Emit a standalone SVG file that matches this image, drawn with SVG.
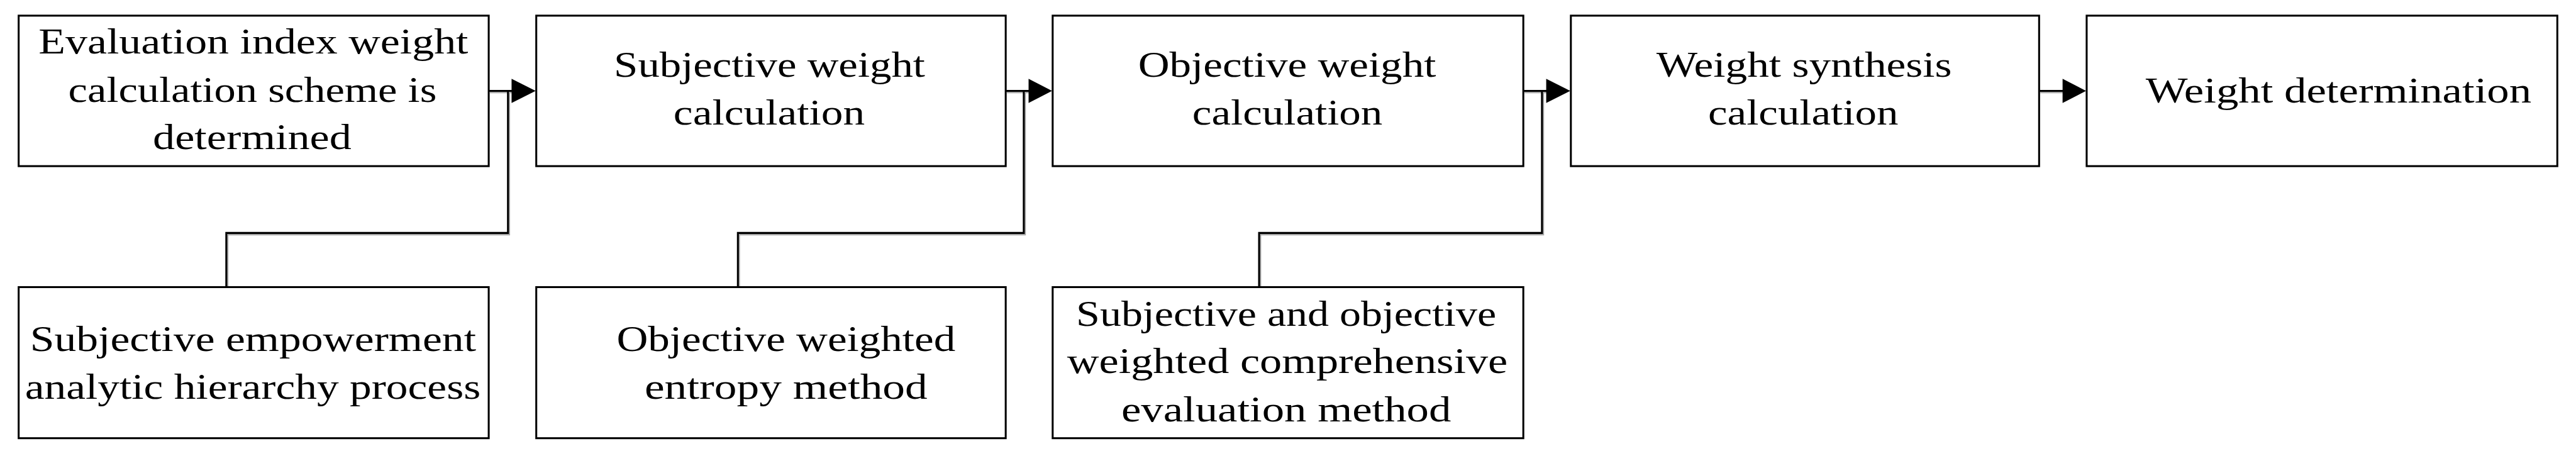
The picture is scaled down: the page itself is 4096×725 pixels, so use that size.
<svg xmlns="http://www.w3.org/2000/svg" width="4096" height="725" viewBox="0 0 4096 725">
<style>
.box{fill:#fff;stroke:#000;stroke-width:3.2}
.t{font-family:"Liberation Serif","Times New Roman",serif;font-size:60px;fill:#000}
.ln{fill:none;stroke:#000;stroke-width:3.2;stroke-linejoin:miter}
.sh{fill:none;stroke:#a8a8a8;stroke-width:3}
.ah{fill:#000}
</style>
<rect width="4096" height="725" fill="#fff"/>
<g transform="scale(0.957)">
<g id="connectors">
<g transform="translate(2,2.5)">
<path class="sh" d="M812 151H851"/><path class="sh" d="M1671 151H1710"/><path class="sh" d="M2531 151H2570"/><path class="sh" d="M3388 151H3428"/>
<path class="sh" d="M844 151V387H376V477"/><path class="sh" d="M1701 151V387H1226V477"/><path class="sh" d="M2562 151V387H2092V477"/>
</g>
<path class="ln" d="M812 151H852"/><polygon class="ah" points="850,131 890,151 850,171"/>
<path class="ln" d="M1671 151H1711"/><polygon class="ah" points="1709,131 1748,151 1709,171"/>
<path class="ln" d="M2531 151H2571"/><polygon class="ah" points="2569,131 2609,151 2569,171"/>
<path class="ln" d="M3388 151H3429"/><polygon class="ah" points="3427,131 3466,151 3427,171"/>
<path class="ln" d="M844 151V387H376V477"/>
<path class="ln" d="M1701 151V387H1226V477"/>
<path class="ln" d="M2562 151V387H2092V477"/>
</g>
<g id="n1"><rect class="box" x="31" y="26" width="781" height="250"/>
<text class="t" x="64" y="89" textLength="714" lengthAdjust="spacingAndGlyphs">Evaluation index weight</text>
<text class="t" x="113.5" y="169" textLength="612" lengthAdjust="spacingAndGlyphs">calculation scheme is</text>
<text class="t" x="254" y="248" textLength="330" lengthAdjust="spacingAndGlyphs">determined</text></g>
<g id="n2"><rect class="box" x="891" y="26" width="780" height="250"/>
<text class="t" x="1020" y="128" textLength="517" lengthAdjust="spacingAndGlyphs">Subjective weight</text>
<text class="t" x="1119" y="207" textLength="318" lengthAdjust="spacingAndGlyphs">calculation</text></g>
<g id="n3"><rect class="box" x="1749" y="26" width="782" height="250"/>
<text class="t" x="1891" y="128" textLength="495" lengthAdjust="spacingAndGlyphs">Objective weight</text>
<text class="t" x="1981" y="207" textLength="316" lengthAdjust="spacingAndGlyphs">calculation</text></g>
<g id="n4"><rect class="box" x="2610" y="26" width="778" height="250"/>
<text class="t" x="2752" y="128" textLength="491" lengthAdjust="spacingAndGlyphs">Weight synthesis</text>
<text class="t" x="2838" y="207" textLength="316" lengthAdjust="spacingAndGlyphs">calculation</text></g>
<g id="n5"><rect class="box" x="3467" y="26" width="782" height="250"/>
<text class="t" x="3565" y="170" textLength="641" lengthAdjust="spacingAndGlyphs">Weight determination</text></g>
<g id="m1"><rect class="box" x="31" y="477" width="781" height="251"/>
<text class="t" x="50" y="583" textLength="741" lengthAdjust="spacingAndGlyphs">Subjective empowerment</text>
<text class="t" x="41.5" y="662" textLength="757" lengthAdjust="spacingAndGlyphs">analytic hierarchy process</text></g>
<g id="m2"><rect class="box" x="891" y="477" width="780" height="251"/>
<text class="t" x="1024.5" y="583" textLength="563" lengthAdjust="spacingAndGlyphs">Objective weighted</text>
<text class="t" x="1071" y="663" textLength="470" lengthAdjust="spacingAndGlyphs">entropy method</text></g>
<g id="m3"><rect class="box" x="1749" y="477" width="782" height="251"/>
<text class="t" x="1788" y="541" textLength="698" lengthAdjust="spacingAndGlyphs">Subjective and objective</text>
<text class="t" x="1773" y="620" textLength="732" lengthAdjust="spacingAndGlyphs">weighted comprehensive</text>
<text class="t" x="1863" y="700" textLength="548" lengthAdjust="spacingAndGlyphs">evaluation method</text></g>
</g>
</svg>
